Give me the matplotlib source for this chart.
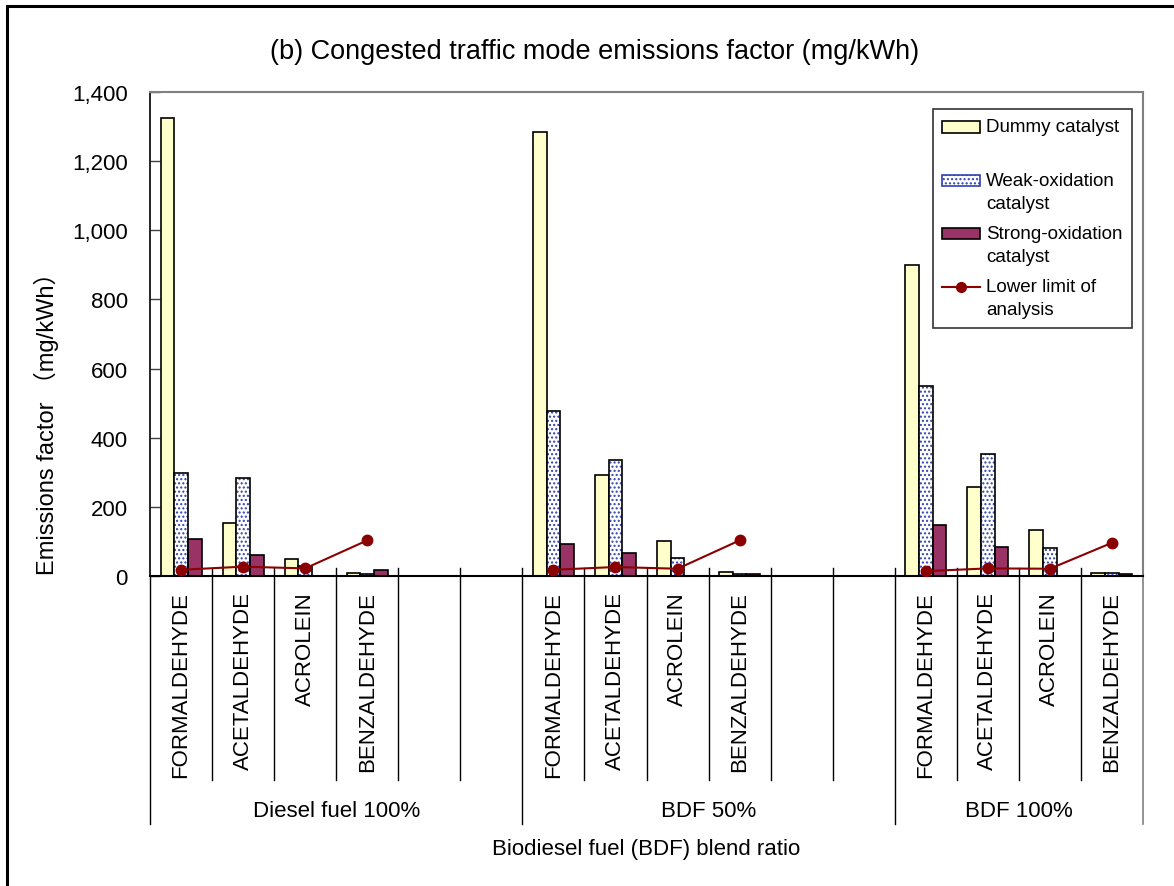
import matplotlib
matplotlib.use("Agg")
import matplotlib.pyplot as plt
from matplotlib.patches import Rectangle
from matplotlib.lines import Line2D
from matplotlib.legend_handler import HandlerPatch, HandlerLine2D
from matplotlib.ticker import FuncFormatter
import numpy as np

plt.rcParams['font.family'] = ['Liberation Sans', 'Noto Sans CJK JP', 'DejaVu Sans']
plt.rcParams['hatch.linewidth'] = 1.0

# ---------------- data ----------------
compounds = ["FORMALDEHYDE", "ACETALDEHYDE", "ACROLEIN", "BENZALDEHYDE"]
groups = ["Diesel fuel 100%", "BDF 50%", "BDF 100%"]
series_names = ["Dummy catalyst\n ", "Weak-oxidation\ncatalyst", "Strong-oxidation\ncatalyst",
                "Lower limit of\nanalysis"]
dummy = [[1325, 154, 48, 8], [1284, 293, 102, 12], [900, 256, 133, 10]]
weak = [[297, 283, 30, 5], [476, 335, 53, 7], [551, 354, 81, 10]]
strong = [[106, 62, 0, 17], [94, 66, 0, 7], [147, 85, 0, 5]]
lower_limit = [[18, 27, 22, 103], [18, 26, 21, 103], [14, 22, 21, 96]]
y_ticks = [0, 200, 400, 600, 800, 1000, 1200, 1400]

title = "(b) Congested traffic mode emissions factor (mg/kWh)"
ylabel = "Emissions factor （mg/kWh）"
xlabel = "Biodiesel fuel (BDF) blend ratio"

# ---------------- layout ----------------
W, H = 1174, 887
fig = plt.figure(figsize=(W / 100, H / 100), dpi=100)
L, R, T, B = 150, 1143, 93, 577
ax = fig.add_axes([L / W, 1 - B / H, (R - L) / W, (B - T) / H])

group_start = [0, 6, 12]
n_slots = 16
bw = 0.22
c_dummy = "#FFFFCC"
c_strong = "#993366"
c_dot = "#3040B0"
c_line = "#8B0000"

for g, start in enumerate(group_start):
    x = np.arange(len(compounds)) + start + 0.5
    ax.bar(x - bw, dummy[g], bw, color=c_dummy, edgecolor="black", linewidth=1.2, zorder=2)
    ax.bar(x, weak[g], bw, color="white", edgecolor=c_dot, hatch="....", linewidth=0, zorder=2)
    ax.bar(x, weak[g], bw, fill=False, edgecolor="black", linewidth=1.2, zorder=2.1)
    ax.bar(x + bw, strong[g], bw, color=c_strong, edgecolor="black", linewidth=1.2, zorder=2)
    ax.plot(x, lower_limit[g], color=c_line, marker="o", markersize=7.5, linewidth=1.5, zorder=3)

ax.set_xlim(0, n_slots)
ax.set_ylim(0, 1400)
ax.set_yticks(y_ticks)
ax.yaxis.set_major_formatter(FuncFormatter(lambda v, p: f"{int(v):,}"))
ax.tick_params(axis="y", direction="in", length=7, width=1, pad=16, labelsize=16, color="#404040")
ax.set_xticks([])

for s in ["top", "right"]:
    ax.spines[s].set_color("#808080")
    ax.spines[s].set_linewidth(1.5)
ax.spines["left"].set_color("black")
ax.spines["bottom"].set_color("black")
ax.spines["left"].set_linewidth(1.2)
ax.spines["bottom"].set_linewidth(1.5)

# category separators and labels
px = 1.0 / (B - T)  # one pixel in axes fraction
trans = ax.get_xaxis_transform()
group_bounds = set(group_start) | {n_slots}
for b in range(0, n_slots + 1):
    if b in group_bounds:
        y0, y1 = 8 * px, -248 * px
    else:
        y0, y1 = 8 * px, -204 * px
    if b == 0:
        y0 = 0
    col = "#808080" if b == n_slots else "black"
    ax.plot([b, b], [y0, y1], transform=trans, color=col, lw=1.2 if b == n_slots else 1.0,
            clip_on=False, zorder=1)

for g, start in enumerate(group_start):
    for i, name in enumerate(compounds):
        ax.text(start + i + 0.5, -15 * px, name, transform=trans, rotation=90,
                ha="center", va="top", fontsize=16)

group_centers = [3, 9, 14]
for g, name in enumerate(groups):
    ax.text(group_centers[g], -235 * px, name, transform=trans, ha="center", va="center",
            fontsize=16)

fig.text(646.5 / W, 1 - 850 / H, xlabel, ha="center", va="center", fontsize=16)
fig.text(595 / W, 1 - 52 / H, title, ha="center", va="center", fontsize=19.5)
fig.text(46 / W, 1 - 418 / H, ylabel, ha="center", va="center", rotation=90, fontsize=17)

# legend with handles aligned to the first text line
LEG_FS = 13.5
LINESP = 1.45
SHIFT = 0.5 * LINESP * LEG_FS * 0.83


def top_patch(legend, orig_handle, xdescent, ydescent, width, height, fontsize):
    return Rectangle((-xdescent, -ydescent + SHIFT), width, height)


class TopLine(HandlerLine2D):
    def create_artists(self, legend, orig_handle, xdescent, ydescent, width, height,
                       fontsize, trans):
        arts = super().create_artists(legend, orig_handle, xdescent, ydescent, width,
                                      height, fontsize, trans)
        for a in arts:
            a.set_ydata(np.asarray(a.get_ydata()) + SHIFT)
        return arts


h_dummy = Rectangle((0, 0), 1, 1, facecolor=c_dummy, edgecolor="black", linewidth=1.2)
h_weak = Rectangle((0, 0), 1, 1, facecolor="white", edgecolor=c_dot, hatch="....", linewidth=1.2)
h_strong = Rectangle((0, 0), 1, 1, facecolor=c_strong, edgecolor="black", linewidth=1.2)
h_line = Line2D([], [], color=c_line, marker="o", markersize=7, linewidth=1.5)
hp = HandlerPatch(patch_func=top_patch)
leg = fig.legend([h_dummy, h_weak, h_strong, h_line], series_names,
                 handler_map={Rectangle: hp, Line2D: TopLine()},
                 loc="upper right", bbox_to_anchor=(1132 / W, 1 - 110 / H),
                 bbox_transform=fig.transFigure, frameon=True, fancybox=False, fontsize=LEG_FS,
                 handlelength=2.0, handleheight=0.55, handletextpad=0.35, labelspacing=0.72,
                 borderpad=0.5, borderaxespad=0)
for t in leg.get_texts():
    t.set_linespacing(LINESP)
leg.get_frame().set_edgecolor("black")
leg.get_frame().set_linewidth(1.2)

# outer frame
fig.add_artist(Rectangle((7 / W, -0.05), 1.2, 1 - 7 / H + 0.05, transform=fig.transFigure,
                         fill=False, edgecolor="black", linewidth=2.2))

fig.savefig("out.png", dpi=100)
